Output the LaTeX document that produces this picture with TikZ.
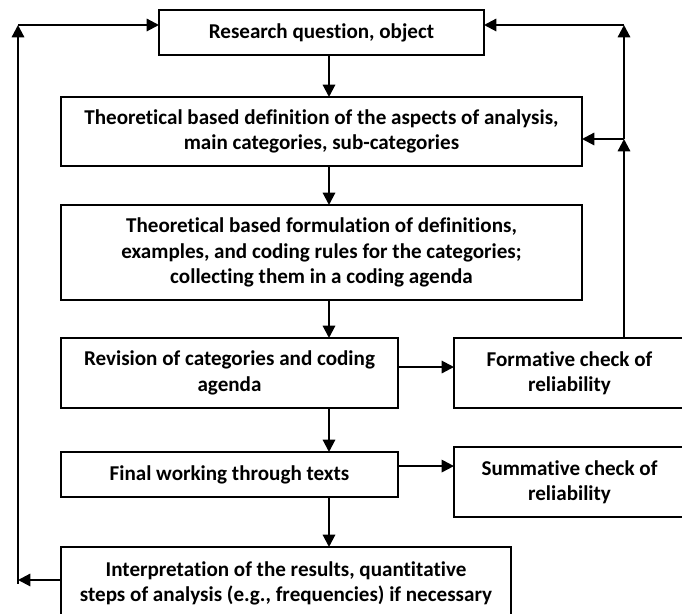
\documentclass[tikz,border=0pt]{standalone}
\usepackage{fontspec}
\setmainfont[Ligatures=NoCommon]{Carlito}
\usetikzlibrary{arrows.meta, positioning}

\begin{document}
\begin{tikzpicture}[>={Triangle[length=7pt,width=7pt]}, font=\bfseries\fontsize{12}{14.4}\selectfont]
    \tikzset{
        stage/.style={draw, line width=0.8pt, align=center, inner sep=2pt, outer sep=0pt},
        flow/.style={->, line width=1.2pt}
    }
    \useasboundingbox (0,0) rectangle (13.64,-12.28);

    % Nodes
    \node[stage, minimum width=6.5cm, minimum height=0.9cm] (question) at (6.43,-0.65) {Research question, object};
    \node[stage, minimum width=10.42cm, minimum height=1.38cm, below=0.84cm of question] (aspects) {Theoretical based definition of the aspects of analysis,\\ main categories, sub-categories};
    \node[stage, minimum width=10.42cm, minimum height=1.9cm, below=0.78cm of aspects] (rules) {Theoretical based formulation of definitions,\\ examples, and coding rules for the categories;\\ collecting them in a coding agenda};
    \node[stage, minimum width=6.74cm, minimum height=1.4cm, below right=0.76cm and 0cm of rules.south west] (revision) {Revision of categories and coding\\ agenda};
    \node[stage, minimum width=4.62cm, minimum height=1.4cm, right=1.12cm of revision] (formative) {Formative check of\\ reliability};
    \node[stage, minimum width=6.74cm, minimum height=0.9cm, below right=0.88cm and 0cm of revision.south west] (final) {Final working through texts};
    \node[stage, minimum width=4.62cm, minimum height=1.4cm, right=1.12cm of final, yshift=-0.15cm] (summative) {Summative check of\\ reliability};
    \node[stage, minimum width=9cm, minimum height=1.46cm, below right=1cm and 0cm of final.south west] (interpret) {Interpretation of the results, quantitative\\ steps of analysis (e.g., frequencies) if necessary};

    % Helper points
    \coordinate (spine) at (6.58,0);
    \coordinate (tl) at (0.36,-0.5);
    \coordinate (tr) at (12.48,-0.5);
    \coordinate (jr) at (12.48,-2.78);
    \coordinate (bl) at (0.36,-11.6);
    \coordinate (rout) at ([yshift=3.4pt]revision.east);
    \coordinate (fout) at ([yshift=4.8pt]final.east);

    % Main flow
    \draw[flow] (question.south -| spine) -- (aspects.north -| spine);
    \draw[flow] (aspects.south -| spine) -- (rules.north -| spine);
    \draw[flow] (rules.south -| spine) -- (revision.north -| spine);
    \draw[flow] (revision.south -| spine) -- (final.north -| spine);
    \draw[flow] (final.south -| spine) -- (interpret.north -| spine);

    % Checks
    \draw[flow] (rout) -- (formative.west |- rout);
    \draw[flow] (fout) -- (summative.west |- fout);

    % Feedback loops
    \draw[flow] (formative.north -| jr) -- (jr);
    \draw[flow] (jr) -- (tr);
    \draw[flow] (tr) -- (question.east |- tr);
    \draw[flow] (jr) -- (aspects.east |- jr);
    \draw[flow] (interpret.west |- bl) -- (bl);
    \draw[flow] ([yshift=-2pt]bl) -- (tl);
    \draw[flow] (tl) -- (question.west |- tl);
\end{tikzpicture}
\end{document}
